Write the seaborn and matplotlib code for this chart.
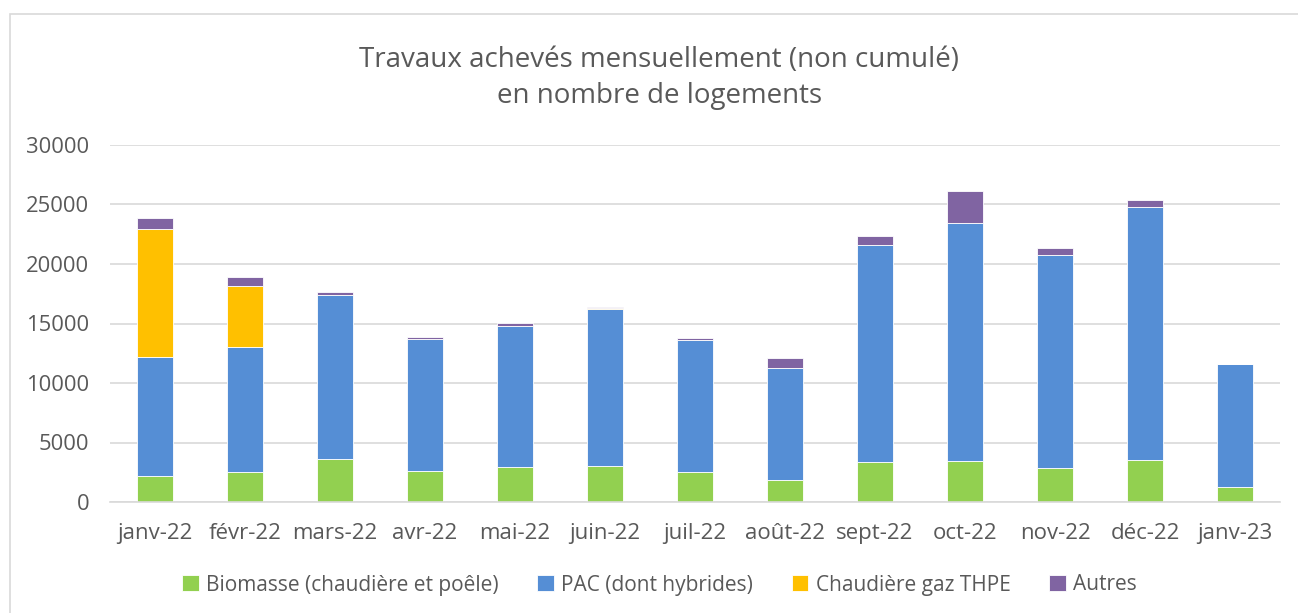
import numpy as np
import pandas as pd
import seaborn as sns
import matplotlib.pyplot as plt
from matplotlib.patches import Rectangle

mois = ["janv-22", "févr-22", "mars-22", "avr-22", "mai-22", "juin-22", "juil-22",
        "août-22", "sept-22", "oct-22", "nov-22", "déc-22", "janv-23"]
biomasse = [2190, 2530, 3650, 2610, 2920, 3000, 2530, 1850, 3400, 3460, 2840, 3510, 1240]
pac = [9970, 10470, 13770, 11100, 11880, 13240, 11120, 9410, 18230, 20020, 17920, 21240, 10330]
gaz = [10760, 5170, 0, 0, 0, 60, 0, 0, 0, 0, 0, 0, 0]
autres = [930, 730, 190, 170, 260, 50, 90, 870, 700, 2620, 620, 620, 60]

series = ["Biomasse (chaudière et poêle)", "PAC (dont hybrides)", "Chaudière gaz THPE", "Autres"]
couleurs = ["#92D050", "#558ED5", "#FFC000", "#8064A2"]

sns.set_style("white")
plt.rcParams['font.family'] = ['Open Sans', 'DejaVu Sans']
gris = "#595959"

fig = plt.figure(figsize=(12.98, 6.13), dpi=100)
ax = fig.add_axes([110 / 1298, 1 - 502 / 613, 1170 / 1298, 357 / 613])

bas = np.zeros(len(mois))
for nom, vals, c in zip(series, [biomasse, pac, gaz, autres], couleurs):
    df = pd.DataFrame({"mois": mois, "val": vals})
    sns.barplot(data=df, x="mois", y="val", color=c, bottom=bas, width=0.4,
                edgecolor="white", linewidth=0.6, label=nom, ax=ax, saturation=1)
    bas = bas + np.array(vals)

ax.set_ylim(0, 30000)
ax.set_xlim(-0.5, len(mois) - 0.5)
ax.set_yticks(range(0, 30001, 5000))
ax.yaxis.grid(True, color="#D9D9D9", linewidth=1.2)
ax.set_axisbelow(True)
for s in ["top", "right", "left"]:
    ax.spines[s].set_visible(False)
ax.spines["bottom"].set_color("#D9D9D9")
ax.spines["bottom"].set_linewidth(1.2)
ax.set_xlabel("")
ax.set_ylabel("")
ax.tick_params(axis="y", length=0, pad=15, labelsize=15.8, labelcolor=gris)
ax.tick_params(axis="x", which="major", length=0, pad=15, labelsize=16, labelcolor=gris)
ax.set_xticks(np.arange(-0.5, len(mois)), minor=True)
ax.tick_params(axis="x", which="minor", length=6, color="#D9D9D9", width=1.2)

if ax.legend_:
    ax.legend_.remove()
h, l = ax.get_legend_handles_labels()
fig.legend(h, l, loc="center", bbox_to_anchor=(0.508, 1 - 585 / 613), ncol=4,
           frameon=False, fontsize=15, labelcolor=gris, handlelength=0.8,
           handleheight=0.8, handletextpad=0.35, columnspacing=1.85)

fig.text(0.508, 1 - 78 / 613, "Travaux achevés mensuellement (non cumulé)\nen nombre de logements",
         ha="center", va="center", fontsize=20, color=gris, linespacing=1.4)

fig.patches.append(Rectangle((10 / 1298, -0.05), 1.1, 1 - 14 / 613 + 0.05,
                             transform=fig.transFigure, fill=False,
                             edgecolor="#D9D9D9", linewidth=1.2))

fig.savefig("out.png", dpi=100)
